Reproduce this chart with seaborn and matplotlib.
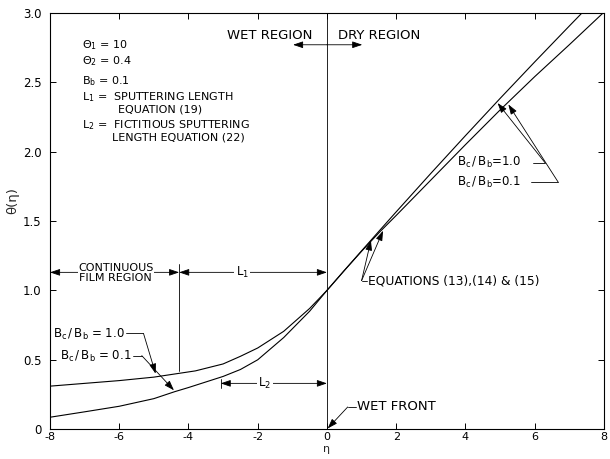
import numpy as np
import pandas as pd
import matplotlib
matplotlib.use("Agg")
import matplotlib.pyplot as plt
import seaborn as sns

# ---- data ----
eta_wet_10 = [-8, -7, -6, -5, -4.6, -3.8, -3, -2.5, -2, -1.25, -0.5, 0]
theta_wet_10 = [0.31, 0.33, 0.35, 0.375, 0.39, 0.42, 0.47, 0.525, 0.585, 0.705, 0.87, 1.0]
eta_dry_10 = [0, 0.5, 1, 1.5, 2, 3, 4, 5, 6, 7, 7.37]
theta_dry_10 = [1.0, 1.143, 1.285, 1.426, 1.566, 1.843, 2.115, 2.383, 2.646, 2.905, 3.0]

eta_wet_01 = [-8, -7, -6, -5, -4.4, -4, -3, -2.5, -2, -1.25, -0.5, 0]
theta_wet_01 = [0.086, 0.125, 0.165, 0.22, 0.27, 0.30, 0.38, 0.43, 0.50, 0.66, 0.85, 1.0]
eta_dry_01 = [0, 0.5, 1, 1.5, 2, 3, 4, 5, 6, 7, 7.98]
theta_dry_01 = [1.0, 1.143, 1.282, 1.415, 1.54, 1.795, 2.05, 2.30, 2.54, 2.77, 3.0]

x_ticks = [-8, -6, -4, -2, 0, 2, 4, 6, 8]
y_ticks = [0, 0.5, 1.0, 1.5, 2.0, 2.5, 3.0]
y_ticklabels = ["0", "0.5", "1.0", "1.5", "2.0", "2.5", "3.0"]

df = pd.DataFrame({
    "eta": eta_wet_10 + eta_dry_10 + eta_wet_01 + eta_dry_01,
    "theta": theta_wet_10 + theta_dry_10 + theta_wet_01 + theta_dry_01,
    "series": (["1.0"] * (len(eta_wet_10) + len(eta_dry_10))
               + ["0.1"] * (len(eta_wet_01) + len(eta_dry_01))),
})

sns.set_theme(style="white")
plt.rcParams["font.family"] = ["DejaVu Sans"]
plt.rcParams["mathtext.default"] = "regular"

fig = plt.figure(figsize=(6.10, 4.59), dpi=100)
ax = fig.add_axes([0.082, 0.065, 0.908, 0.907])

sns.lineplot(data=df, x="eta", y="theta", units="series", estimator=None,
             sort=False, color="black", linewidth=0.8, ax=ax, legend=False)

ax.set_xlim(-8, 8)
ax.set_ylim(0, 3.0)
ax.set_xticks(x_ticks)
ax.set_xticklabels([str(t) for t in x_ticks])
ax.set_yticks(y_ticks)
ax.set_yticklabels(y_ticklabels)
ax.tick_params(direction="in", length=4, width=0.7, labelsize=8.5, colors="black",
               top=True, right=True, bottom=True, left=True)
ax.tick_params(axis="x", pad=2, labelsize=8)
ax.tick_params(axis="y", pad=6)
for s in ax.spines.values():
    s.set_color("black")
    s.set_linewidth(0.8)
ax.set_xlabel("η", fontsize=8, va="center")
ax.xaxis.set_label_coords(0.5, -0.047)
ax.set_ylabel("θ(η)", fontsize=9.5)
ax.yaxis.set_label_coords(-0.056, 0.55)

head = "-|>,head_length=0.5,head_width=0.17"
dbl = "<|-|>,head_length=0.5,head_width=0.17"
ap = dict(arrowstyle=head, color="black", lw=0.6, shrinkA=0, shrinkB=0)
apd = dict(arrowstyle=dbl, color="black", lw=0.6, shrinkA=0, shrinkB=0)
wb = dict(facecolor="white", edgecolor="none", pad=1)

def txt(x, y, s, size, ha="left", **kw):
    ax.text(x, y, s, ha=ha, va="center", fontsize=size, color="black", **kw)

def seg(xs, ys):
    ax.plot(xs, ys, color="black", lw=0.6)

# wet front vertical line
ax.axvline(0, color="black", lw=0.6)

# region header
txt(-1.66, 2.84, "WET REGION", 9.5, ha="center")
txt(0.32, 2.84, "DRY REGION", 9.5)
ax.annotate("", xy=(-0.98, 2.77), xytext=(0, 2.77), arrowprops=ap)
ax.annotate("", xy=(1.02, 2.77), xytext=(0, 2.77), arrowprops=ap)

# parameter block
pf = 8
txt(-7.08, 2.77, "$\\Theta_1$ = 10", pf)
txt(-7.08, 2.65, "$\\Theta_2$ = 0.4", pf)
txt(-7.08, 2.51, "$B_b$ = 0.1", pf)
txt(-7.08, 2.39, "$L_1$ =  SPUTTERING LENGTH", pf)
txt(-6.05, 2.30, "EQUATION (19)", pf)
txt(-7.08, 2.19, "$L_2$ =  FICTITIOUS SPUTTERING", pf)
txt(-6.2, 2.10, "LENGTH EQUATION (22)", pf)

# L1 dimension line and continuous film region
ax.annotate("", xy=(-8, 1.13), xytext=(-4.27, 1.13), arrowprops=apd)
ax.annotate("", xy=(-4.27, 1.13), xytext=(0, 1.13), arrowprops=apd)
seg([-4.27, -4.27], [0.42, 1.19])
txt(-6.1, 1.125, "CONTINUOUS\nFILM REGION", 8, ha="center", linespacing=1.05,
    zorder=5, bbox=dict(facecolor="white", edgecolor="none", pad=0.3))
txt(-2.45, 1.13, "$L_1$", 8.5, ha="center", zorder=5, bbox=wb)

# L2 dimension line
ax.annotate("", xy=(-3.07, 0.33), xytext=(0, 0.33), arrowprops=apd)
seg([-3.07, -3.07], [0.30, 0.36])
txt(-1.8, 0.33, "$L_2$", 8.5, ha="center", zorder=5, bbox=wb)

# wet-region labels
bf = 8.5
txt(-7.9, 0.68, "$B_c\\,/\\,B_b$ = 1.0", bf)
seg([-5.8, -5.3], [0.69, 0.69])
ax.annotate("", xy=(-4.95, 0.40), xytext=(-5.3, 0.69), arrowprops=ap)
txt(-7.7, 0.525, "$B_c\\,/\\,B_b$ = 0.1", bf)
seg([-5.6, -5.35], [0.53, 0.53])
ax.annotate("", xy=(-4.42, 0.28), xytext=(-5.35, 0.53), arrowprops=ap)

# dry-region labels
txt(3.76, 1.92, "$B_c\\,/\\,B_b$=1.0", bf)
seg([5.96, 6.3], [1.92, 1.92])
ax.annotate("", xy=(4.93, 2.35), xytext=(6.3, 1.92), arrowprops=ap)
txt(3.76, 1.78, "$B_c\\,/\\,B_b$=0.1", bf)
seg([5.9, 6.68], [1.78, 1.78])
ax.annotate("", xy=(5.24, 2.34), xytext=(6.68, 1.78), arrowprops=ap)

# equations label
txt(1.19, 1.065, "EQUATIONS (13),(14) & (15)", 8.8)
seg([1.0, 1.17], [1.07, 1.07])
ax.annotate("", xy=(1.27, 1.36), xytext=(1.0, 1.07), arrowprops=ap)
ax.annotate("", xy=(1.62, 1.43), xytext=(1.0, 1.07), arrowprops=ap)

# wet front label
txt(0.88, 0.16, "WET FRONT", 9.5)
seg([0.6, 0.85], [0.16, 0.16])
ax.annotate("", xy=(0.02, 0.005), xytext=(0.6, 0.16), arrowprops=ap)

fig.savefig("out.png", dpi=100)
